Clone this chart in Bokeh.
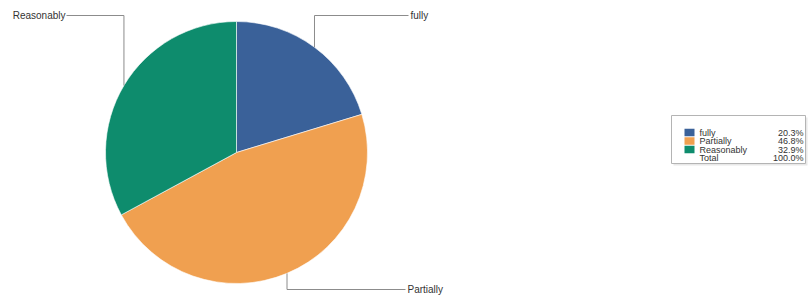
import math
from bokeh.plotting import figure
from bokeh.models import Range1d, ColumnDataSource
from bokeh.core.properties import value
from bokeh.embed import file_html
from bokeh.resources import INLINE

# ---- data ----
categories = ["fully", "Partially", "Reasonably"]
percents = [20.3, 46.8, 32.9]
colors = ["#3A6199", "#F0A050", "#0E8C6D"]
total_label = "Total"
total_value = "100.0%"

# ---- layout (screen pixels inside the figure, y from top) ----
W, H = 812, 296
CX, CY, R = 236, 152, 131
FONT = "Liberation Sans"

def fy(y):
    return H - y

p = figure(width=W, height=H, output_backend="svg", toolbar_location=None,
           x_range=Range1d(0, W), y_range=Range1d(0, H), min_border=0,
           outline_line_color=None)
p.axis.visible = False
p.xgrid.visible = False
p.ygrid.visible = False
p.background_fill_color = "white"
p.border_fill_color = "white"

# wedges, clockwise from 12 o'clock
starts, ends, mids = [], [], []
cum = 0.0
for v in percents:
    a_end = math.pi / 2 - 2 * math.pi * cum / 100.0
    cum += v
    a_start = math.pi / 2 - 2 * math.pi * cum / 100.0
    starts.append(a_start)
    ends.append(a_end)
    mids.append((a_start + a_end) / 2)

src = ColumnDataSource(dict(start=starts, end=ends, color=colors))
p.wedge(x=CX, y=fy(CY), radius=R, start_angle="start", end_angle="end",
        direction="anticlock", fill_color="color", line_color="white",
        line_width=0.6, source=src)

# leader lines and labels
label_y = [15, 289, 15]        # screen y of label row
label_x = [408, 405, 66]       # end of horizontal leader
label_align = ["left", "left", "right"]
for i, cat in enumerate(categories):
    ax = CX + R * math.cos(mids[i])
    ay = fy(CY) + R * math.sin(mids[i])
    ly = fy(label_y[i])
    p.line([ax, ax, label_x[i]], [ay, ly, ly], line_color="#8c8c8c", line_width=1)
    off = 2 if label_align[i] == "left" else -1
    p.text(x=[label_x[i] + off], y=[ly], text=[cat], text_font=value(FONT),
           text_font_size="10px", text_color="#333333",
           text_align=label_align[i], text_baseline="middle")

# legend box
LX0, LY0, LX1, LY1 = 671, 115, 805, 163
p.quad(left=[LX0 + 2], right=[LX1 + 2], top=[fy(LY0 + 2)], bottom=[fy(LY1 + 2)],
       fill_color="#e8e8e8", line_color=None)
p.quad(left=[LX0], right=[LX1], top=[fy(LY0)], bottom=[fy(LY1)],
       fill_color="white", line_color="#b4b4b4", line_width=1)

row_y = [132, 140.5, 149, 157.5]
FS = "9px"
for i, cat in enumerate(categories):
    yy = fy(row_y[i])
    p.quad(left=[684], right=[694], top=[yy + 3.8], bottom=[yy - 3.8],
           fill_color=colors[i], line_color=None)
    p.text(x=[699], y=[yy], text=[cat], text_font=value(FONT), text_font_size=FS,
           text_color="#333333", text_align="left", text_baseline="middle")
    p.text(x=[803], y=[yy], text=["%.1f%%" % percents[i]], text_font=value(FONT),
           text_font_size=FS, text_color="#333333", text_align="right",
           text_baseline="middle")
yy = fy(row_y[3])
p.text(x=[699], y=[yy], text=[total_label], text_font=value(FONT), text_font_size=FS,
       text_color="#333333", text_align="left", text_baseline="middle")
p.text(x=[803], y=[yy], text=[total_value], text_font=value(FONT), text_font_size=FS,
       text_color="#333333", text_align="right", text_baseline="middle")

open("out.html", "w").write(file_html(p, INLINE))
